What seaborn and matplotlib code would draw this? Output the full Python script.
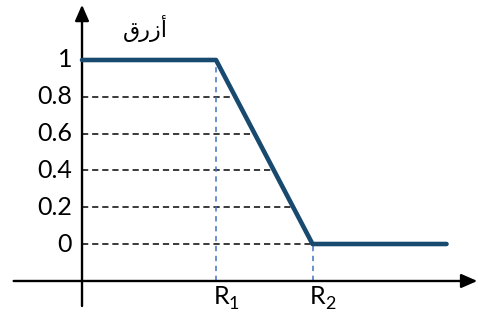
import matplotlib
matplotlib.use("Agg")
import matplotlib.pyplot as plt
import seaborn as sns
import pandas as pd

sns.set_theme(style="white")
plt.rcParams["font.family"] = ["Lato", "DejaVu Sans"]

# Membership function: flat at 1 up to R1, falls linearly to 0 at R2, then flat
R1 = 1.0
R2 = 1.72
x_end = 2.72
x_points = [0.0, R1, R2, x_end]
y_points = [1.0, 1.0, 0.0, 0.0]
levels = [1.0, 0.8, 0.6, 0.4, 0.2, 0.0]
level_labels = ["1", "0.8", "0.6", "0.4", "0.2", "0"]
x_label_subscripts = ["1", "2"]
title_word = "\u0642\u0631\u0632\u0623"  # أزرق laid out right-to-left (all isolated forms)

line_color = "#184a6f"

fig = plt.figure(figsize=(4.78, 3.2), dpi=100)
ax = fig.add_axes([0, 0, 1, 1])
ax.set_xlim(-0.612, 2.955)
ax.set_ylim(-0.413, 1.326)

x_axis_y = -0.201

# Coordinate axes with arrowheads
ax.annotate("", xy=(2.95, x_axis_y), xytext=(-0.51, x_axis_y), annotation_clip=False,
            arrowprops=dict(arrowstyle="-|>,head_length=0.8,head_width=0.35",
                            color="black", lw=1.7, shrinkA=0, shrinkB=0))
ax.annotate("", xy=(0.0, 1.30), xytext=(0.0, -0.337), annotation_clip=False,
            arrowprops=dict(arrowstyle="-|>,head_length=0.8,head_width=0.35",
                            color="black", lw=1.7, shrinkA=0, shrinkB=0))

# Horizontal dashed guides from the y axis to the curve
for lv in levels[1:]:
    if lv == 0.0:
        xe = R2
    else:
        xe = R1 + (1 - lv) * (R2 - R1)
    ax.plot([0, xe], [lv, lv], color="#3a3a3a", lw=1.4, ls=(0, (3.2, 2.0)), zorder=2)

# Vertical dashed guides at R1 and R2
ax.plot([R1, R1], [x_axis_y, 1.0], color="#4472c4", lw=1.1, ls=(0, (3.5, 3)), zorder=2)
ax.plot([R2, R2], [x_axis_y, 0.0], color="#4472c4", lw=1.1, ls=(0, (3.5, 3)), zorder=2)

df = pd.DataFrame({"x": x_points, "y": y_points})
sns.lineplot(data=df, x="x", y="y", ax=ax, color=line_color, lw=3.3,
             sort=False, estimator=None, zorder=4)
ax.axis("off")

# Tick labels
for lv, lab in zip(levels, level_labels):
    ax.text(-0.075, lv, lab, ha="right", va="center", fontsize=18, color="black")
for xv, sub in zip([R1, R2], x_label_subscripts):
    ax.text(xv - 0.02, -0.225, "R", ha="left", va="top", fontsize=18, color="black")
    ax.text(xv + 0.095, -0.285, sub, ha="left", va="top", fontsize=13, color="black")

ax.text(0.47, 1.1, title_word, ha="center", va="bottom", fontsize=16,
        family=["DejaVu Sans"], color="black")

fig.savefig("out.png", dpi=100)
